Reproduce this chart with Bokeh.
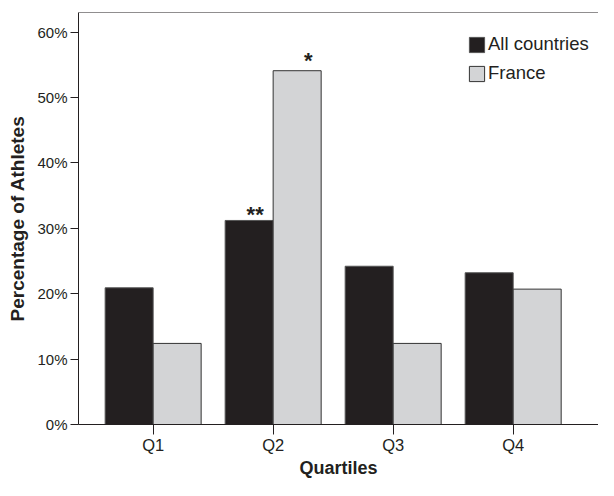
from bokeh.plotting import figure
from bokeh.models import (ColumnDataSource, Range1d, FixedTicker, PrintfTickFormatter,
                          Span, Legend, LegendItem)
from bokeh.embed import file_html
from bokeh.resources import INLINE
from bokeh.core.properties import value

quartiles = ["Q1", "Q2", "Q3", "Q4"]
all_countries = [20.9, 31.2, 24.2, 23.2]
france = [12.4, 54.1, 12.4, 20.7]
all_marks = ["", "**", "", ""]
france_marks = ["", "*", "", ""]
y_ticks = [0, 10, 20, 30, 40, 50, 60]

pos = list(range(1, len(quartiles) + 1))
bw = 0.4
src_a = ColumnDataSource(dict(x=[p - bw / 2 for p in pos], top=all_countries, m=all_marks))
src_f = ColumnDataSource(dict(x=[p + bw / 2 for p in pos], top=france, m=france_marks))

FONT = "Liberation Sans"
p = figure(width=598, height=480, output_backend="svg", toolbar_location=None,
           x_range=Range1d(0.378, 4.711), y_range=Range1d(0, 63.0),
           min_border_left=78, min_border_top=12, min_border_right=0, min_border_bottom=50)
p.outline_line_color = None
p.xgrid.visible = False
p.ygrid.visible = False
p.background_fill_color = "white"
p.border_fill_color = "white"

ra = p.vbar(x="x", top="top", width=bw, source=src_a, fill_color="#231f20",
            line_color="#555555", line_width=1)
rf = p.vbar(x="x", top="top", width=bw, source=src_f, fill_color="#d3d4d6",
            line_color="#333333", line_width=1)

p.text(x="x", y="top", text="m", source=src_a, text_font=value(FONT),
       text_font_style="bold", text_font_size="22px", text_align="center",
       text_baseline="alphabetic", x_offset=6, y_offset=-6, text_color="#231f20")
p.text(x="x", y="top", text="m", source=src_f, text_font=value(FONT),
       text_font_style="bold", text_font_size="22px", text_align="center",
       text_baseline="alphabetic", x_offset=11, y_offset=-10, text_color="#231f20")

p.add_layout(Span(location=63.0, dimension="width", line_color="#231f20", line_width=1.2))

# x axis
xa = p.xaxis[0]
xa.ticker = FixedTicker(ticks=pos)
xa.major_label_overrides = {i: q for i, q in zip(pos, quartiles)}
xa.minor_tick_line_color = None
xa.major_tick_out = 10
xa.major_tick_in = 0
xa.axis_line_color = "#231f20"
xa.major_tick_line_color = "#231f20"
xa.major_label_text_font = FONT
xa.major_label_text_font_size = "16.5px"
xa.major_label_text_color = "#231f20"
xa.major_label_standoff = 1
xa.axis_label = "Quartiles"
xa.axis_label_text_font = FONT
xa.axis_label_text_font_style = "bold"
xa.axis_label_text_font_size = "18px"
xa.axis_label_text_color = "#231f20"
xa.axis_label_standoff = 1

# y axis
ya = p.yaxis[0]
ya.ticker = FixedTicker(ticks=y_ticks)
ya.formatter = PrintfTickFormatter(format="%d%%")
ya.minor_tick_line_color = None
ya.major_tick_out = 8
ya.major_tick_in = 0
ya.axis_line_color = "#231f20"
ya.major_tick_line_color = "#231f20"
ya.major_label_text_font = FONT
ya.major_label_text_font_size = "15px"
ya.major_label_text_color = "#231f20"
ya.major_label_standoff = 3
ya.axis_label = "Percentage of Athletes"
ya.axis_label_text_font = FONT
ya.axis_label_text_font_style = "bold"
ya.axis_label_text_font_size = "19px"
ya.axis_label_text_color = "#231f20"
ya.axis_label_standoff = 6

legend = Legend(items=[LegendItem(label="All countries", renderers=[ra]),
                       LegendItem(label="France", renderers=[rf])],
                location=(389, 340), padding=0, spacing=7, margin=0,
                glyph_width=19, glyph_height=19, label_height=19, label_standoff=2,
                label_text_font=FONT, label_text_font_size="18.5px",
                label_text_color="#231f20",
                border_line_color=None, background_fill_alpha=0)
p.add_layout(legend)

open("out.html", "w").write(file_html(p, INLINE))
